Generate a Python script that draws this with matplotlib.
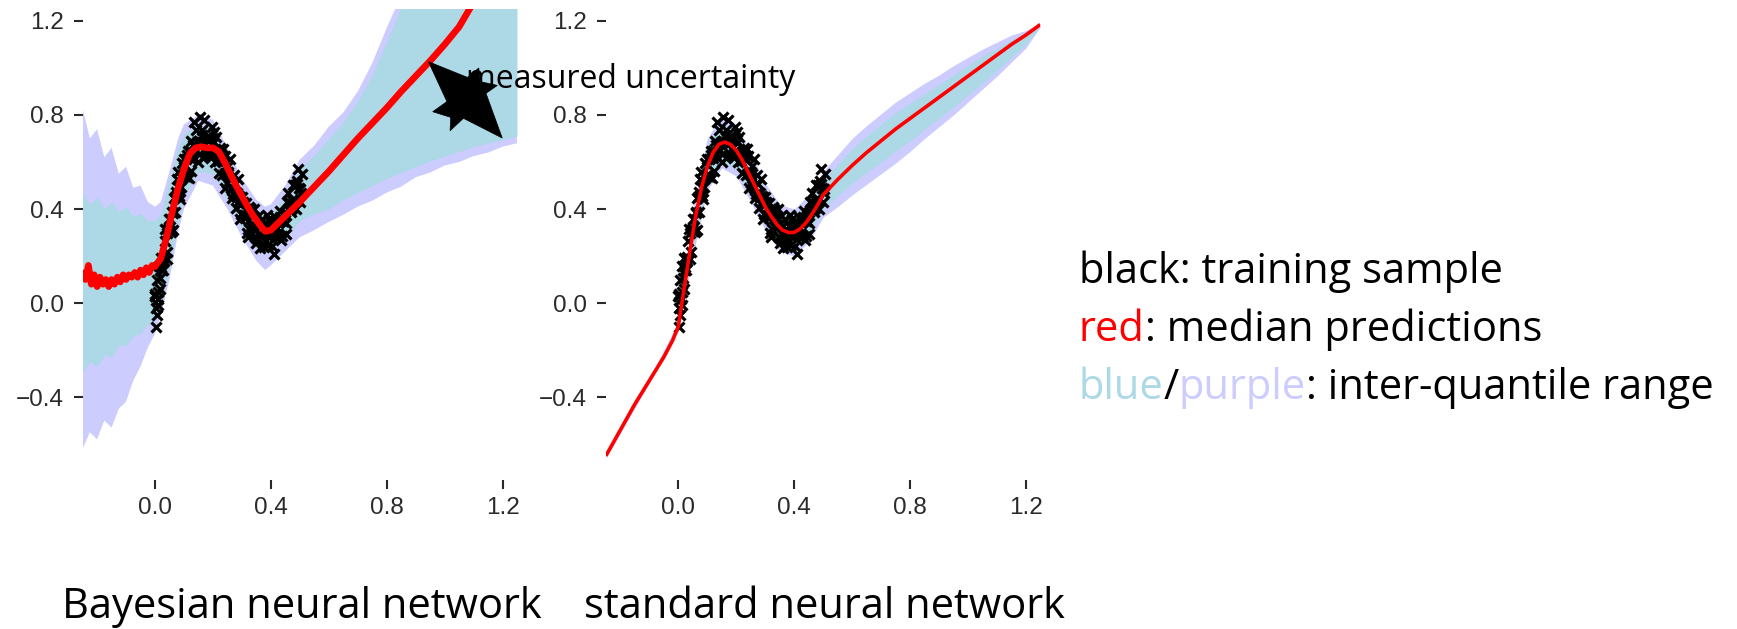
import numpy as np
import matplotlib
matplotlib.use("Agg")
import matplotlib.pyplot as plt
from matplotlib.patches import Polygon

# ---------------- data ----------------
x_ticks = [0.0, 0.4, 0.8, 1.2]
y_ticks = [-0.4, 0.0, 0.4, 0.8, 1.2]
x_tick_labels = ["0.0", "0.4", "0.8", "1.2"]
y_tick_labels = ["\u22120.4", "0.0", "0.4", "0.8", "1.2"]

# training sample (same in both panels): four interleaved sweeps
train_grid_x = [0.00, 0.01, 0.02, 0.03, 0.04, 0.05, 0.06, 0.07, 0.08, 0.09,
                0.10, 0.11, 0.12, 0.13, 0.14, 0.15, 0.16, 0.17, 0.18, 0.19,
                0.20, 0.21, 0.22, 0.23, 0.24, 0.25, 0.26, 0.27, 0.28, 0.29,
                0.30, 0.31, 0.32, 0.33, 0.34, 0.35, 0.36, 0.37, 0.38, 0.39,
                0.40, 0.41, 0.42, 0.43, 0.44, 0.45, 0.46, 0.47, 0.48, 0.49,
                0.50]
train_sweep_shift = [0.0, 0.003, 0.006, 0.0015]
train_y_a = [0.030, 0.016, 0.192, 0.177, 0.189, 0.359, 0.386, 0.389, 0.558, 0.492,
             0.612, 0.536, 0.645, 0.638, 0.736, 0.598, 0.685, 0.780, 0.633, 0.704,
             0.642, 0.705, 0.555, 0.612, 0.627, 0.510, 0.612, 0.463, 0.404, 0.456,
             0.449, 0.374, 0.280, 0.400, 0.322, 0.257, 0.327, 0.359, 0.266, 0.247,
             0.341, 0.209, 0.321, 0.367, 0.285, 0.386, 0.470, 0.386, 0.433, 0.521,
             0.430]
train_y_b = [-0.020, 0.156, 0.142, 0.265, 0.217, 0.356, 0.312, 0.474, 0.491, 0.594,
             0.542, 0.645, 0.562, 0.770, 0.650, 0.690, 0.735, 0.625, 0.710, 0.631,
             0.727, 0.629, 0.638, 0.545, 0.489, 0.582, 0.493, 0.544, 0.466, 0.358,
             0.431, 0.427, 0.314, 0.324, 0.398, 0.274, 0.234, 0.308, 0.326, 0.358,
             0.244, 0.313, 0.286, 0.392, 0.351, 0.294, 0.428, 0.404, 0.502, 0.570,
             0.469]
train_y_c = [0.100, 0.106, 0.141, 0.314, 0.315, 0.303, 0.448, 0.528, 0.444, 0.536,
             0.612, 0.533, 0.689, 0.619, 0.683, 0.790, 0.616, 0.704, 0.658, 0.747,
             0.602, 0.603, 0.661, 0.657, 0.551, 0.533, 0.445, 0.506, 0.527, 0.380,
             0.374, 0.300, 0.408, 0.369, 0.283, 0.371, 0.282, 0.237, 0.376, 0.289,
             0.326, 0.366, 0.280, 0.268, 0.378, 0.431, 0.396, 0.502, 0.400, 0.489,
             0.547]
train_y_d = [0.030, 0.046, 0.152, 0.196, 0.298, 0.308, 0.384, 0.456, 0.454, 0.538,
             0.547, 0.630, 0.618, 0.671, 0.648, 0.679, 0.715, 0.676, 0.691, 0.642,
             0.679, 0.632, 0.622, 0.628, 0.553, 0.556, 0.488, 0.509, 0.450, 0.432,
             0.425, 0.360, 0.387, 0.327, 0.330, 0.276, 0.295, 0.309, 0.266, 0.297,
             0.322, 0.291, 0.294, 0.349, 0.348, 0.340, 0.404, 0.440, 0.437, 0.505,
             0.484]
train_extra_x = [0.003, 0.006, 0.001, 0.012, 0.018]
train_extra_y = [-0.100, -0.050, 0.040, -0.010, 0.060]

# Bayesian NN: median prediction
bnn_med_x = [-0.25, -0.24, -0.23, -0.22, -0.21, -0.20, -0.19, -0.18, -0.17, -0.16,
             -0.15, -0.14, -0.13, -0.12, -0.11, -0.10, -0.09, -0.08, -0.07, -0.06,
             -0.05, -0.04, -0.03, -0.02, -0.01, 0.00,
             0.02, 0.04, 0.06, 0.08, 0.10, 0.12, 0.14, 0.16, 0.18, 0.20,
             0.22, 0.24, 0.26, 0.28, 0.30, 0.32, 0.34, 0.36, 0.38, 0.40,
             0.45, 0.50, 0.55, 0.60, 0.65, 0.70, 0.75, 0.80, 0.85, 0.90,
             0.95, 1.00, 1.05, 1.10]
bnn_med_y = [0.14, 0.10, 0.16, 0.08, 0.12, 0.07, 0.11, 0.08, 0.10, 0.07,
             0.10, 0.08, 0.11, 0.09, 0.12, 0.10, 0.12, 0.11, 0.13, 0.11,
             0.14, 0.12, 0.15, 0.13, 0.16, 0.155,
             0.19, 0.28, 0.39, 0.49, 0.57, 0.635, 0.66, 0.665, 0.66, 0.66,
             0.645, 0.60, 0.55, 0.50, 0.455, 0.41, 0.37, 0.335, 0.305, 0.31,
             0.37, 0.43, 0.495, 0.56, 0.63, 0.70, 0.765, 0.83, 0.90, 0.965,
             1.03, 1.10, 1.175, 1.28]

# Bayesian NN: quantile bands
bnn_band_x = [-0.25, -0.225, -0.2, -0.175, -0.15, -0.125, -0.1, -0.075, -0.05, -0.025, 0.0,
              0.02, 0.05, 0.08, 0.10, 0.15, 0.20, 0.25, 0.30, 0.35, 0.38, 0.40, 0.45, 0.50,
              0.55, 0.60, 0.65, 0.70, 0.75, 0.80, 0.85, 0.90, 0.95, 1.00, 1.05, 1.10,
              1.15, 1.20, 1.25]
bnn_outer_hi = [0.83, 0.70, 0.74, 0.62, 0.66, 0.55, 0.58, 0.49, 0.50, 0.43, 0.41,
                0.43, 0.56, 0.70, 0.76, 0.80, 0.78, 0.66, 0.53, 0.44, 0.41, 0.42, 0.50, 0.61,
                0.67, 0.75, 0.81, 0.90, 1.02, 1.17, 1.31, 1.42, 1.52, 1.62, 1.72, 1.82,
                1.92, 2.02, 2.12]
bnn_inner_hi = [0.47, 0.42, 0.45, 0.40, 0.43, 0.39, 0.41, 0.37, 0.38, 0.35, 0.35,
                0.38, 0.52, 0.66, 0.72, 0.76, 0.74, 0.62, 0.49, 0.40, 0.37, 0.38, 0.46, 0.57,
                0.63, 0.70, 0.77, 0.86, 0.97, 1.11, 1.26, 1.37, 1.47, 1.57, 1.67, 1.77,
                1.87, 1.97, 2.07]
bnn_inner_lo = [-0.29, -0.25, -0.27, -0.22, -0.23, -0.18, -0.18, -0.14, -0.13, -0.09, -0.07,
                0.00, 0.15, 0.35, 0.45, 0.56, 0.55, 0.44, 0.32, 0.23, 0.21, 0.22, 0.28, 0.35,
                0.38, 0.40, 0.44, 0.47, 0.50, 0.53, 0.555, 0.58, 0.605, 0.625, 0.645, 0.665,
                0.68, 0.695, 0.71]
bnn_outer_lo = [-0.62, -0.55, -0.58, -0.50, -0.53, -0.45, -0.42, -0.33, -0.27, -0.19, -0.13,
                -0.05, 0.10, 0.30, 0.40, 0.52, 0.50, 0.40, 0.28, 0.18, 0.14, 0.16, 0.22, 0.28,
                0.31, 0.345, 0.375, 0.41, 0.435, 0.47, 0.495, 0.535, 0.555, 0.585, 0.60, 0.625,
                0.64, 0.665, 0.68]

# standard NN: median prediction
snn_med_x = [-0.25, -0.20, -0.15, -0.10, -0.05, -0.02, 0.00,
             0.02, 0.04, 0.06, 0.08, 0.10, 0.12, 0.14, 0.16, 0.18, 0.20,
             0.22, 0.24, 0.26, 0.28, 0.30, 0.32, 0.34, 0.36, 0.38, 0.40,
             0.42, 0.44, 0.46, 0.48, 0.50,
             0.55, 0.60, 0.65, 0.70, 0.75, 0.80, 0.85, 0.90, 0.95, 1.00,
             1.05, 1.10, 1.15, 1.20, 1.25]
snn_med_y = [-0.65, -0.54, -0.43, -0.33, -0.23, -0.16, -0.10,
             0.06, 0.22, 0.37, 0.49, 0.58, 0.64, 0.675, 0.685, 0.675, 0.65,
             0.61, 0.56, 0.51, 0.46, 0.41, 0.37, 0.335, 0.31, 0.30, 0.30,
             0.315, 0.34, 0.375, 0.415, 0.46,
             0.525, 0.585, 0.64, 0.69, 0.74, 0.785, 0.83, 0.875, 0.92, 0.965,
             1.01, 1.055, 1.10, 1.14, 1.185]

# standard NN: quantile bands
snn_band_x = [-0.25, -0.1, 0.0, 0.05, 0.1, 0.15, 0.2, 0.25, 0.3, 0.35, 0.4, 0.45, 0.5,
              0.55, 0.6, 0.65, 0.7, 0.75, 0.8, 0.85, 0.9, 0.95, 1.0, 1.05, 1.1, 1.15,
              1.2, 1.25]
snn_outer_hi = [-0.64, -0.32, -0.08, 0.40, 0.70, 0.80, 0.76, 0.64, 0.51, 0.42, 0.40, 0.46, 0.56,
                0.63, 0.70, 0.755, 0.805, 0.855, 0.895, 0.935, 0.97, 1.01, 1.045, 1.08, 1.11, 1.14,
                1.16, 1.19]
snn_inner_hi = [-0.645, -0.325, -0.09, 0.37, 0.67, 0.765, 0.73, 0.61, 0.48, 0.39, 0.37, 0.43, 0.52,
                0.59, 0.655, 0.71, 0.76, 0.81, 0.85, 0.89, 0.93, 0.97, 1.01, 1.05, 1.085, 1.12,
                1.15, 1.187]
snn_inner_lo = [-0.655, -0.335, -0.11, 0.23, 0.51, 0.605, 0.57, 0.46, 0.34, 0.25, 0.23, 0.29, 0.40,
                0.455, 0.51, 0.555, 0.60, 0.645, 0.69, 0.74, 0.785, 0.835, 0.885, 0.935, 0.99, 1.045,
                1.10, 1.18]
snn_outer_lo = [-0.66, -0.34, -0.12, 0.20, 0.48, 0.575, 0.54, 0.43, 0.31, 0.22, 0.20, 0.26, 0.365,
                0.41, 0.46, 0.505, 0.55, 0.595, 0.645, 0.70, 0.75, 0.80, 0.855, 0.91, 0.965, 1.025,
                1.085, 1.175]

panel_titles = ["Bayesian neural network", "standard neural network"]
annotation_text = "measured uncertainty"
legend_lines = [
    [("black: training sample", "#000000")],
    [("red", "#ff0000"), (": median predictions", "#000000")],
    [("blue", "#add8e6"), ("/", "#000000"), ("purple", "#ccccff"),
     (": inter-quantile range", "#000000")],
]

# ---------------- styling ----------------
W, H, DPI = 1737, 629, 100
BLUE = "#add8e6"
PURPLE = "#ccccff"
RED = "#ff0000"
TICK_COLOR = "#2a2a2a"
TEXT_FONT = ["Open Sans", "DejaVu Sans"]
TICK_FONT = ["Liberation Sans", "DejaVu Sans"]

fig = plt.figure(figsize=(W / DPI, H / DPI), dpi=DPI)
fig.patch.set_facecolor("white")


def px_axes(x0, x1, y_top, y_bot):
    return fig.add_axes([x0 / W, 1 - y_bot / H, (x1 - x0) / W, (y_bot - y_top) / H])


ax1 = px_axes(82.6, 517.0, 9.0, 480.0)
ax2 = px_axes(605.9, 1040.3, 9.0, 480.0)

train_x = []
train_y = []
for shift, ys in zip(train_sweep_shift, [train_y_a, train_y_b, train_y_c, train_y_d]):
    train_x.extend([gx + shift for gx in train_grid_x])
    train_y.extend(ys)
train_x.extend(train_extra_x)
train_y.extend(train_extra_y)

panels = [
    (ax1, bnn_band_x, bnn_outer_lo, bnn_outer_hi, bnn_inner_lo, bnn_inner_hi,
     bnn_med_x, bnn_med_y, 4.8),
    (ax2, snn_band_x, snn_outer_lo, snn_outer_hi, snn_inner_lo, snn_inner_hi,
     snn_med_x, snn_med_y, 2.6),
]

for ax, bx, olo, ohi, ilo, ihi, mx, my, lw in panels:
    ax.fill_between(bx, olo, ohi, color=PURPLE, lw=0, zorder=1)
    ax.fill_between(bx, ilo, ihi, color=BLUE, lw=0, zorder=2)
    ax.plot(train_x, train_y, linestyle="none", marker="x", color="black",
            markersize=7.5, markeredgewidth=2.3, zorder=3)
    ax.plot(mx, my, color=RED, lw=lw, solid_joinstyle="round",
            solid_capstyle="butt", zorder=4)

    ax.set_xlim(-0.25, 1.25)
    ax.set_ylim(-0.753, 1.251)
    for s in ax.spines.values():
        s.set_visible(False)
    ax.set_xticks(x_ticks)
    ax.set_xticklabels(x_tick_labels)
    ax.set_yticks(y_ticks)
    ax.set_yticklabels(y_tick_labels)
    ax.tick_params(direction="out", length=6.5, width=1.5, color=TICK_COLOR,
                   labelsize=17.5, labelcolor=TICK_COLOR)
    ax.tick_params(axis="y", pad=7)
    ax.tick_params(axis="x", pad=6)
    for lab in ax.get_xticklabels() + ax.get_yticklabels():
        lab.set_family(TICK_FONT)
    ax.patch.set_alpha(0)

# annotation: "measured uncertainty" with the black arrow blob
fig.text(466 / W, 1 - 88 / H, annotation_text, fontsize=23, family=TEXT_FONT,
         va="baseline", ha="left", color="black", zorder=3)
blob = [(0.944, 1.027), (1.079, 0.960), (1.118, 1.000), (1.123, 0.942),
        (1.182, 0.926), (1.143, 0.892), (1.199, 0.702), (1.065, 0.786),
        (1.019, 0.733), (1.021, 0.790), (0.959, 0.814), (1.008, 0.857)]
fig.add_artist(Polygon(blob, closed=True, facecolor="black", edgecolor="black",
                       lw=0.5, transform=ax1.transData, zorder=5))

# panel titles
fig.text(62 / W, 1 - 618 / H, panel_titles[0], fontsize=30, family=TEXT_FONT,
         va="baseline", ha="left")
fig.text(584 / W, 1 - 618 / H, panel_titles[1], fontsize=30, family=TEXT_FONT,
         va="baseline", ha="left")

# colored legend text
renderer = fig.canvas.get_renderer()
legend_baselines = [283, 341, 399]
for base, parts in zip(legend_baselines, legend_lines):
    x = 1079.0
    for s, c in parts:
        t = fig.text(x / W, 1 - base / H, s, color=c, fontsize=30, family=TEXT_FONT,
                     va="baseline", ha="left")
        bb = t.get_window_extent(renderer)
        x = bb.x1

fig.savefig("out.png", dpi=DPI, facecolor="white")
